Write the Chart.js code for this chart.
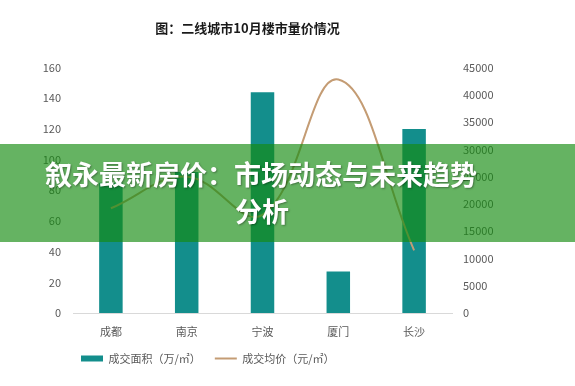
<!DOCTYPE html>
<html>
<head>
<meta charset="utf-8">
<script src="https://cdn.jsdelivr.net/npm/chart.js@4"></script>
<style>
  html, body { margin: 0; padding: 0; background: #fff; }
  #wrap { width: 575px; height: 386px; }
</style>
</head>
<body>
<div id="wrap"><canvas id="priceChart" width="575" height="386"></canvas></div>
<script>
// data
var cities = ["成都", "南京", "宁波", "厦门", "长沙"];
var dealArea = [85, 92, 144, 27, 120];              // 万/㎡
var dealPrice = [19200, 25000, 18000, 42800, 11500]; // 元/㎡
var areaTicks = [0, 20, 40, 60, 80, 100, 120, 140, 160];
var priceTicks = [0, 5000, 10000, 15000, 20000, 25000, 30000, 35000, 40000, 45000];

var fontFamily = "'Noto Sans CJK SC', 'Noto Sans', sans-serif";

// green banner with headline laid over the chart
var bannerPlugin = {
    id: 'banner',
    afterDraw: function(chart) {
        var ctx = chart.ctx;
        ctx.save();
        ctx.fillStyle = 'rgba(22, 140, 16, 0.66)';
        ctx.fillRect(0, 144, 575, 98);
        ctx.fillStyle = '#ffffff';
        ctx.font = "bold 27px " + fontFamily;
        ctx.textAlign = 'center';
        ctx.textBaseline = 'middle';
        ctx.shadowColor = 'rgba(0, 0, 0, 0.35)';
        ctx.shadowBlur = 2;
        ctx.shadowOffsetX = 1;
        ctx.shadowOffsetY = 1;
        ctx.fillText("叙永最新房价：市场动态与未来趋势", 261, 175);
        ctx.fillText("分析", 262, 212);
        ctx.restore();
    }
};

// legend sits left of centre in the original
var legendShift = {
    id: 'legendShift',
    afterLayout: function(chart) {
        chart.legend.left += 67;
    }
};

var plainNumber = function(value) { return String(value); };

var priceChart = new Chart(document.getElementById('priceChart'), {
    type: 'bar',
    data: {
        labels: cities,
        datasets: [{
            type: 'bar',
            label: '成交面积（万/㎡）',
            data: dealArea,
            yAxisID: 'yArea',
            backgroundColor: '#138e8c',
            barPercentage: 0.31,
            categoryPercentage: 1,
            pointStyle: 'rect',
            order: 2
        }, {
            type: 'line',
            label: '成交均价（元/㎡）',
            data: dealPrice,
            yAxisID: 'yPrice',
            borderColor: '#c49c74',
            backgroundColor: '#c49c74',
            borderWidth: 2,
            pointRadius: 0,
            pointStyle: 'line',
            tension: 0.4,
            order: 1
        }]
    },
    options: {
        responsive: false,
        animation: false,
        layout: { padding: { left: 0, right: 80, top: 0, bottom: 12 } },
        plugins: {
            title: {
                display: true,
                text: '图：二线城市10月楼市量价情况',
                color: '#1a1a1a',
                font: { family: fontFamily, size: 13, weight: 'bold' },
                padding: { top: 20, bottom: 32 }
            },
            legend: {
                position: 'bottom',
                align: 'start',
                labels: {
                    usePointStyle: true,
                    pointStyleWidth: 22,
                    boxHeight: 6,
                    padding: 14,
                    color: '#595959',
                    font: { family: fontFamily, size: 11 },
                    sort: function(a, b) { return a.datasetIndex - b.datasetIndex; }
                }
            },
            tooltip: { enabled: false }
        },
        scales: {
            x: {
                grid: { display: false, drawTicks: false },
                border: { display: true, color: '#d9d9d9' },
                ticks: { color: '#595959', padding: 12, font: { family: fontFamily, size: 11 } },
                afterFit: function(scale) { scale.height = 26; }
            },
            yArea: {
                position: 'left',
                min: 0,
                max: 160,
                afterBuildTicks: function(scale) {
                    scale.ticks = areaTicks.map(function(v) { return { value: v }; });
                },
                grid: { display: false, drawTicks: false },
                border: { display: false },
                ticks: { color: '#595959', padding: 12, font: { family: fontFamily, size: 11 }, callback: plainNumber },
                afterFit: function(scale) { scale.width = 73; }
            },
            yPrice: {
                position: 'right',
                min: 0,
                max: 45000,
                afterBuildTicks: function(scale) {
                    scale.ticks = priceTicks.map(function(v) { return { value: v }; });
                },
                grid: { display: false, drawTicks: false },
                border: { display: false },
                ticks: { color: '#595959', padding: 11, font: { family: fontFamily, size: 11 }, callback: plainNumber },
                afterFit: function(scale) { scale.width = 43; }
            }
        }
    },
    plugins: [bannerPlugin, legendShift]
});
</script>
</body>
</html>
